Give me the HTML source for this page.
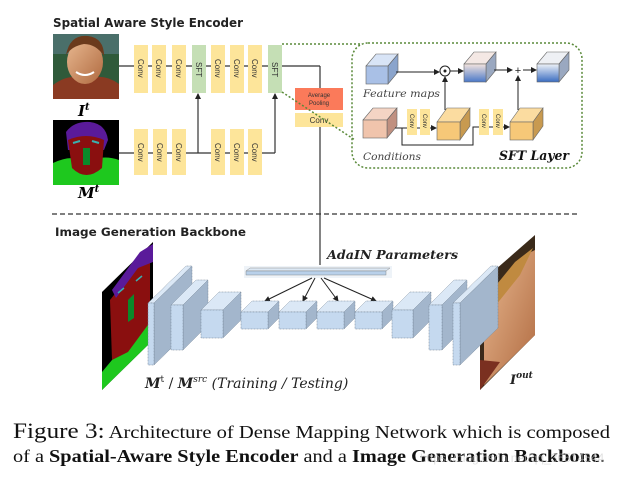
<!DOCTYPE html>
<html><head><meta charset="utf-8"><style>
html,body{margin:0;padding:0;background:#fff;}
svg{display:block;}
.lbl{font-family:"DejaVu Serif","Liberation Serif",serif;}
</style></head><body>
<svg width="624" height="479" viewBox="0 0 624 479" xmlns="http://www.w3.org/2000/svg">
<defs>
<marker id="ar" markerWidth="6" markerHeight="6" refX="5" refY="3" orient="auto" markerUnits="userSpaceOnUse"><path d="M0,0 L6,3 L0,6 z" fill="#222"/></marker>
<linearGradient id="gb" x1="0" y1="0" x2="0" y2="1"><stop offset="0" stop-color="#f4e4de"/><stop offset="1" stop-color="#4a78c8"/></linearGradient>
<linearGradient id="gb2" x1="0" y1="0" x2="0" y2="1"><stop offset="0" stop-color="#eef2f8"/><stop offset="1" stop-color="#3a6cc0"/></linearGradient>
<linearGradient id="skin" x1="0" y1="0" x2="1" y2="1"><stop offset="0" stop-color="#e8b890"/><stop offset="1" stop-color="#b06a40"/></linearGradient>
</defs>

<text x="53" y="27" font-family="DejaVu Sans, Liberation Sans, sans-serif" font-weight="bold" font-size="12.5" fill="#222" textLength="190" lengthAdjust="spacingAndGlyphs">Spatial Aware Style Encoder</text>

<!-- I^t face -->
<rect x="53" y="34" width="66" height="65" fill="#2f5a3a"/>
<rect x="53" y="34" width="66" height="20" fill="#4a6f6a"/>
<path d="M53,99 L53,85 Q70,72 86,80 Q102,72 119,84 L119,99z" fill="#8a3a22"/>
<ellipse cx="85" cy="62" rx="18" ry="22" fill="url(#skin)"/>
<path d="M66,55 Q70,34 88,36 Q104,38 104,56 Q96,44 84,44 Q72,46 66,55z" fill="#6b3a1c"/>
<path d="M76,72 Q85,78 94,72" stroke="#fff" stroke-width="2" fill="none"/>
<text x="78" y="116" class="lbl" font-weight="bold" font-style="italic" font-size="15">I<tspan font-size="10" dy="-6">t</tspan></text>

<!-- M^t mask -->
<rect x="53" y="120" width="66" height="65" fill="#000"/>
<path d="M53,185 L53,163 Q70,155 80,160 L92,160 Q105,155 119,160 L119,185z" fill="#1ec81e"/>
<path d="M66,132 Q74,121 90,122 Q106,124 108,140 L104,150 L68,150z" fill="#5a1a9a"/>
<path d="M68,140 Q86,132 104,140 L102,168 Q86,182 72,168z" fill="#8a0f0f"/>
<path d="M83,148 L90,148 L90,165 L83,165z" fill="#0a8a2a"/>
<path d="M73,143 L80,141 M92,141 L99,143" stroke="#3ab0b0" stroke-width="2"/>
<text x="78" y="198" class="lbl" font-weight="bold" font-style="italic" font-size="15">M<tspan font-size="10" dy="-6">t</tspan></text>

<g stroke="#333" stroke-width="1.2" fill="none">
<line x1="119" y1="66" x2="320" y2="66"/>
<line x1="320" y1="66" x2="320" y2="88"/>
<line x1="320" y1="127" x2="320" y2="265"/>
<line x1="119" y1="153" x2="275" y2="153"/>
<line x1="198" y1="153" x2="198" y2="94" marker-end="url(#ar)"/>
<line x1="275" y1="153" x2="275" y2="94" marker-end="url(#ar)"/>
</g>
<g font-family="Liberation Sans, sans-serif" font-size="8" fill="#333">
<g fill="#fde59a">
<rect x="134" y="45" width="14" height="48"/><rect x="152" y="45" width="14" height="48"/><rect x="172" y="45" width="14" height="48"/>
<rect x="211" y="45" width="14" height="48"/><rect x="230" y="45" width="14" height="48"/><rect x="248" y="45" width="14" height="48"/>
<rect x="134" y="129" width="14" height="46"/><rect x="153" y="129" width="14" height="46"/><rect x="172" y="129" width="14" height="46"/>
<rect x="211" y="129" width="14" height="46"/><rect x="230" y="129" width="14" height="46"/><rect x="248" y="129" width="14" height="46"/>
</g>
<rect x="192" y="45" width="14" height="48" fill="#c5dfb5"/>
<rect x="268" y="45" width="14" height="48" fill="#c5dfb5"/>
<g transform="rotate(90)">
<text x="59" y="-138">Conv</text><text x="59" y="-156">Conv</text><text x="59" y="-176">Conv</text>
<text x="62" y="-196">SFT</text>
<text x="59" y="-215">Conv</text><text x="59" y="-234">Conv</text><text x="59" y="-252">Conv</text>
<text x="62" y="-272">SFT</text>
<text x="143" y="-138">Conv</text><text x="143" y="-157">Conv</text><text x="143" y="-176">Conv</text>
<text x="143" y="-215">Conv</text><text x="143" y="-234">Conv</text><text x="143" y="-252">Conv</text>
</g>
</g>
<rect x="295" y="88" width="48" height="22" fill="#fb7a5a"/>
<text x="319" y="97" font-family="Liberation Sans, sans-serif" font-size="6" text-anchor="middle" fill="#333">Average</text>
<text x="319" y="105" font-family="Liberation Sans, sans-serif" font-size="6" text-anchor="middle" fill="#333">Pooling</text>
<rect x="295" y="113" width="48" height="14" fill="#fde59a"/>
<text x="319" y="123" font-family="Liberation Sans, sans-serif" font-size="8" text-anchor="middle" fill="#333">Conv</text>

<g stroke="#5a8a3a" stroke-width="1.5" stroke-dasharray="2,2" fill="none">
<line x1="282" y1="44" x2="360" y2="44"/>
<line x1="282" y1="92" x2="355" y2="140"/>
<rect x="352" y="43" width="230" height="125" rx="16"/>
</g>

<g stroke="#666" stroke-width="0.6">
<polygon points="366,66 376,54 398,54 388,66" fill="#d8e4f6"/><polygon points="388,66 398,54 398,72 388,84" fill="#8aa4cc"/><rect x="366" y="66" width="22" height="18" fill="#a9c0e6"/>
<polygon points="464,64 474,52 496,52 486,64" fill="#f4e8e4"/><polygon points="486,64 496,52 496,70 486,82" fill="#9aa8c0"/><rect x="464" y="64" width="22" height="18" fill="url(#gb)"/>
<polygon points="537,64 547,52 569,52 559,64" fill="#eef0f4"/><polygon points="559,64 569,52 569,70 559,82" fill="#9aa8c0"/><rect x="537" y="64" width="22" height="18" fill="url(#gb2)"/>
<polygon points="363,120 373,108 397,108 387,120" fill="#f4d4c4"/><polygon points="387,120 397,108 397,126 387,138" fill="#c09080"/><rect x="363" y="120" width="24" height="18" fill="#f0c4ac"/>
<polygon points="437,122 447,108 470,108 460,122" fill="#fbdca0"/><polygon points="460,122 470,108 470,126 460,140" fill="#c89a50"/><rect x="437" y="122" width="23" height="18" fill="#f6c878"/>
<polygon points="510,122 520,108 543,108 533,122" fill="#fbdca0"/><polygon points="533,122 543,108 543,126 533,140" fill="#c89a50"/><rect x="510" y="122" width="23" height="18" fill="#f6c878"/>
</g>
<g stroke="#222" stroke-width="1" fill="none">
<line x1="396" y1="72" x2="439" y2="72" marker-end="url(#ar)"/>
<circle cx="445" cy="71" r="5"/><circle cx="445" cy="71" r="1" fill="#222"/>
<line x1="450" y1="71" x2="463" y2="71" marker-end="url(#ar)"/>
<line x1="494" y1="70" x2="512" y2="70" marker-end="url(#ar)"/>
<line x1="523" y1="70" x2="536" y2="70" marker-end="url(#ar)"/>
<line x1="445" y1="110" x2="445" y2="77" marker-end="url(#ar)"/>
<line x1="518" y1="110" x2="518" y2="76" marker-end="url(#ar)"/>
<line x1="395" y1="128" x2="436" y2="128" marker-end="url(#ar)"/>
<polyline points="402,128 402,145 473,145 473,127 509,127" marker-end="url(#ar)"/>
</g>
<text x="518" y="74" font-family="Liberation Sans, sans-serif" font-size="11" text-anchor="middle" fill="#222">+</text>
<g fill="#fde59a"><rect x="407" y="109" width="10" height="26"/><rect x="420" y="109" width="10" height="26"/><rect x="479" y="109" width="10" height="26"/><rect x="493" y="109" width="10" height="26"/></g>
<g transform="rotate(90)" font-family="Liberation Sans, sans-serif" font-size="6" fill="#333">
<text x="114" y="-410">Conv</text><text x="114" y="-423">Conv</text><text x="114" y="-482">Conv</text><text x="114" y="-496">Conv</text>
</g>
<text x="363" y="97" class="lbl" font-style="italic" font-size="10.5" fill="#444" textLength="77" lengthAdjust="spacingAndGlyphs">Feature maps</text>
<text x="363" y="160" class="lbl" font-style="italic" font-size="10.5" fill="#444" textLength="58" lengthAdjust="spacingAndGlyphs">Conditions</text>
<text x="499" y="160" class="lbl" font-style="italic" font-weight="bold" font-size="13" fill="#111" textLength="70" lengthAdjust="spacingAndGlyphs">SFT Layer</text>

<line x1="52" y1="214" x2="580" y2="214" stroke="#333" stroke-width="1.2" stroke-dasharray="5,3"/>
<text x="55" y="236" font-family="DejaVu Sans, Liberation Sans, sans-serif" font-weight="bold" font-size="11.5" fill="#222" textLength="191" lengthAdjust="spacingAndGlyphs">Image Generation Backbone</text>

<text x="327" y="259" class="lbl" font-weight="bold" font-style="italic" font-size="12" fill="#222" textLength="131" lengthAdjust="spacingAndGlyphs">AdaIN Parameters</text>
<rect x="244" y="266" width="148" height="12" fill="#eef3f8"/>
<polygon points="246,271 250,268 390,268 386,271" fill="#dce8f4" stroke="#777" stroke-width="0.4"/>
<rect x="246" y="271" width="140" height="4" fill="#b8d0ea" stroke="#777" stroke-width="0.4"/>
<g stroke="#222" stroke-width="1">
<line x1="312" y1="278" x2="265" y2="301" marker-end="url(#ar)"/>
<line x1="315" y1="278" x2="303" y2="301" marker-end="url(#ar)"/>
<line x1="321" y1="278" x2="338" y2="301" marker-end="url(#ar)"/>
<line x1="324" y1="278" x2="376" y2="301" marker-end="url(#ar)"/>
</g>

<!-- mask parallelogram -->
<polygon points="102,292 153,242 153,340 102,390" fill="#000"/>
<polygon points="110,300 140,262 150,258 150,330 128,355 112,360" fill="#8a0f0f"/>
<polygon points="112,290 140,252 153,244 153,262 138,268 116,298" fill="#5a1a9a"/>
<polygon points="102,372 102,390 153,340 153,318 128,352 112,360" fill="#1ec81e"/>
<polygon points="128,300 134,294 134,318 128,322" fill="#0a8a2a"/>
<path d="M118,293 L124,288 M136,281 L142,276" stroke="#3ab0b0" stroke-width="1.5"/>

<!-- output face -->
<polygon points="480,283 535,235 535,335 480,390" fill="#3a2a1a"/>
<polygon points="484,300 525,255 535,250 535,335 484,385" fill="url(#skin)"/>
<polygon points="484,300 515,262 533,248 520,275 492,310" fill="#c08a40"/>
<polygon points="480,360 500,362 480,390" fill="#7a3020"/>

<g stroke="#6f7f90" stroke-width="0.5" stroke-dasharray="1,0.5">
<polygon points="148,303 186,266 192,266 154,303" fill="#dbe8f6"/><polygon points="154,303 192,266 192,328 154,365" fill="#a3b6cc"/><rect x="148" y="303" width="6" height="62" fill="#c5d9ef"/>
<polygon points="171,305 196,280 208,280 183,305" fill="#dbe8f6"/><polygon points="183,305 208,280 208,325 183,350" fill="#a3b6cc"/><rect x="171" y="305" width="12" height="45" fill="#c5d9ef"/>
<polygon points="201,310 219,292 241,292 223,310" fill="#dbe8f6"/><polygon points="223,310 241,292 241,320 223,338" fill="#a3b6cc"/><rect x="201" y="310" width="22" height="28" fill="#c5d9ef"/>
<polygon points="241,312 252,301 279,301 268,312" fill="#dbe8f6"/><polygon points="268,312 279,301 279,318 268,329" fill="#a3b6cc"/><rect x="241" y="312" width="27" height="17" fill="#c5d9ef"/>
<polygon points="279,312 290,301 317,301 306,312" fill="#dbe8f6"/><polygon points="306,312 317,301 317,318 306,329" fill="#a3b6cc"/><rect x="279" y="312" width="27" height="17" fill="#c5d9ef"/>
<polygon points="317,312 328,301 355,301 344,312" fill="#dbe8f6"/><polygon points="344,312 355,301 355,318 344,329" fill="#a3b6cc"/><rect x="317" y="312" width="27" height="17" fill="#c5d9ef"/>
<polygon points="355,312 366,301 393,301 382,312" fill="#dbe8f6"/><polygon points="382,312 393,301 393,318 382,329" fill="#a3b6cc"/><rect x="355" y="312" width="27" height="17" fill="#c5d9ef"/>
<polygon points="392,310 410,292 431,292 413,310" fill="#dbe8f6"/><polygon points="413,310 431,292 431,320 413,338" fill="#a3b6cc"/><rect x="392" y="310" width="21" height="28" fill="#c5d9ef"/>
<polygon points="429,305 454,280 467,280 442,305" fill="#dbe8f6"/><polygon points="442,305 467,280 467,325 442,350" fill="#a3b6cc"/><rect x="429" y="305" width="13" height="45" fill="#c5d9ef"/>
<polygon points="453,303 491,266 498,266 460,303" fill="#dbe8f6"/><polygon points="460,303 498,266 498,328 460,365" fill="#a3b6cc"/><rect x="453" y="303" width="7" height="62" fill="#c5d9ef"/>
</g>

<text x="145" y="388" class="lbl" font-size="14" fill="#222"><tspan font-weight="bold" font-style="italic">M</tspan><tspan font-size="9" dy="-6">t</tspan><tspan dy="6"> / </tspan><tspan font-weight="bold" font-style="italic">M</tspan><tspan font-size="9" dy="-6" font-style="italic">src</tspan><tspan dy="6" font-style="italic"> (Training / Testing)</tspan></text>
<text x="510" y="384" class="lbl" font-weight="bold" font-style="italic" font-size="13" fill="#222">I<tspan font-size="9" dy="-6">out</tspan></text>

<text x="13" y="438" font-family="Liberation Serif, serif" font-size="18" fill="#111" textLength="597" lengthAdjust="spacingAndGlyphs"><tspan font-size="22">Figure 3:</tspan> Architecture of Dense Mapping Network which is composed</text>
<text x="13" y="462" font-family="Liberation Serif, serif" font-size="18" fill="#111" textLength="592" lengthAdjust="spacingAndGlyphs">of a <tspan font-weight="bold">Spatial-Aware Style Encoder</tspan> and a <tspan font-weight="bold">Image Generation Backbone</tspan>.</text>
<text x="420" y="462" font-family="Liberation Sans, sans-serif" font-size="12" fill="#ccc" opacity="0.6">https://blog.csdn.net/qq_36514544</text>
</svg>
</body></html>
